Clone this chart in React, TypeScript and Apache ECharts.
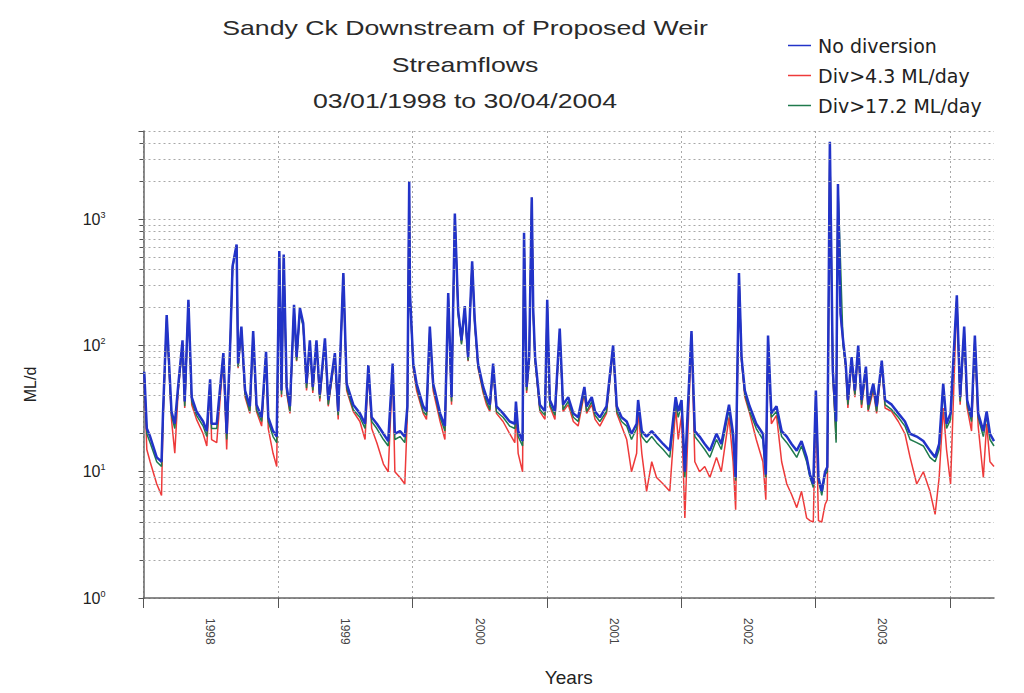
import React, { useEffect, useRef } from 'react';
import * as echarts from 'echarts';

const dates = [
  '1998-01-03','1998-01-10','1998-01-19','1998-02-06','1998-02-19','1998-02-23','1998-03-05','1998-03-18','1998-03-27','1998-04-05',
  '1998-04-17','1998-04-23','1998-05-03','1998-05-12','1998-05-25','1998-06-12','1998-06-22','1998-07-01','1998-07-05','1998-07-19',
  '1998-08-06','1998-08-15','1998-08-24','1998-08-31','1998-09-11','1998-09-15','1998-09-24','1998-10-04','1998-10-17','1998-10-26',
  '1998-11-04','1998-11-18','1998-11-30','1998-12-06','1998-12-19','1998-12-29','1999-01-05','1999-01-11','1999-01-17','1999-01-25',
  '1999-02-03','1999-02-14','1999-02-21','1999-03-02','1999-03-11','1999-03-20','1999-03-29','1999-04-06','1999-04-16','1999-04-25',
  '1999-05-09','1999-05-18','1999-06-05','1999-06-14','1999-06-28','1999-07-07','1999-07-25','1999-08-12','1999-08-26','1999-09-04',
  '1999-09-13','1999-09-27','1999-10-15','1999-10-28','1999-11-09','1999-11-15','1999-11-29','1999-12-12','1999-12-19','1999-12-24',
  '1999-12-26','2000-01-04','2000-01-13','2000-01-31','2000-02-09','2000-02-18','2000-02-27','2000-03-17','2000-03-30','2000-04-08',
  '2000-04-17','2000-04-26','2000-05-05','2000-05-14','2000-05-23','2000-06-01','2000-06-12','2000-06-19','2000-06-28','2000-07-12',
  '2000-07-21','2000-07-30','2000-08-08','2000-08-17','2000-09-04','2000-09-22','2000-10-06','2000-10-09','2000-10-15','2000-10-27',
  '2000-10-31','2000-11-07','2000-11-14','2000-11-21','2000-11-25','2000-11-30','2000-12-13','2000-12-27','2001-01-02','2001-01-09',
  '2001-01-23','2001-02-05','2001-02-14','2001-02-28','2001-03-14','2001-03-27','2001-04-13','2001-04-19','2001-05-03','2001-05-12',
  '2001-05-25','2001-06-12','2001-06-30','2001-07-10','2001-07-23','2001-08-06','2001-08-19','2001-09-02','2001-09-06','2001-09-16',
  '2001-09-29','2001-10-13','2001-10-26','2001-11-13','2001-12-01','2001-12-17','2001-12-24','2002-01-02','2002-01-11','2002-01-29',
  '2002-02-07','2002-02-20','2002-03-06','2002-03-20','2002-04-07','2002-04-20','2002-05-11','2002-05-22','2002-05-29','2002-06-07',
  '2002-06-14','2002-06-23','2002-07-06','2002-07-24','2002-08-11','2002-08-19','2002-08-25','2002-09-03','2002-09-17','2002-10-01',
  '2002-10-15','2002-10-28','2002-11-11','2002-11-24','2002-12-08','2002-12-17','2002-12-26','2003-01-02','2003-01-09','2003-01-18',
  '2003-01-27','2003-02-02','2003-02-09','2003-02-17','2003-02-26','2003-03-03','2003-03-10','2003-03-17','2003-03-24','2003-03-30',
  '2003-04-09','2003-04-18','2003-04-27','2003-05-06','2003-05-18','2003-05-24','2003-06-07','2003-06-16','2003-06-30','2003-07-09',
  '2003-07-27','2003-08-14','2003-09-01','2003-09-15','2003-10-03','2003-10-21','2003-11-08','2003-11-22','2003-12-03','2003-12-14',
  '2003-12-23','2004-01-03','2004-01-20','2004-01-29','2004-02-09','2004-02-17','2004-02-29','2004-03-09','2004-03-18','2004-04-01',
  '2004-04-10','2004-04-19','2004-04-30',
];

const noDiversion = [
  62,22,19,13,12,29,174,30,24,47,
  110,36,230,39,30,25,21,54,24,24,
  87,20,92,425,630,72,141,44,33,130,
  34,27,89,27,21,19,560,44,525,47,
  33,210,81,198,150,50,110,47,110,41,
  114,37,87,30,375,50,34,29,24,70,
  27,24,20,17.5,72,20,21,19,33,2000,
  260,72,50,33,30,141,50,29,23,260,
  39,1110,190,110,205,81,465,159,72,47,
  39,34,72,33,29,25,24,36,21,17.5,
  780,47,81,1490,190,81,34,30,230,37,
  30,136,34,39,29,27,47,33,39,30,
  27,33,100,33,27,25,20,24,37,21,
  19,21,19,16.6,14.7,39,30,37,10,130,
  21,19,16.6,14.7,20,16.6,34,20,9,375,
  81,44,33,24,20,9.5,120,29,33,21,
  19,16.6,14.7,17.5,13,9.5,8,44,9,7,
  10,10.9,4100,63,25,1900,180,110,72,37,
  81,44,100,37,68,34,50,33,76,37,
  34,29,25,20,19,17.5,14.7,13,16.6,50,
  24,29,250,39,141,37,27,120,29,21,
  30,20,17.5,
];

const div43 = [
  58,15,12,8,6.5,25,165,26,14,42,
  104,32,222,34,26,20,16,48,18,17,
  80,15,86,418,622,66,134,39,29,124,
  30,23,83,22,14,11,552,39,518,42,
  29,203,75,192,144,44,104,42,104,36,
  108,33,81,26,368,44,30,25,18,64,
  22,17,11.5,10,66,10,9,8,28,1990,
  252,66,44,29,26,135,44,25,18,252,
  34,1100,183,104,198,75,458,152,66,42,
  34,30,66,29,25,20,17,31,14,10,
  770,42,75,1480,183,75,30,26,222,33,
  26,130,30,34,25,23,42,29,34,26,
  23,29,94,29,23,18,10,14,32,14,
  7,12,9,8,7,32,18,28,4.3,124,
  12,10,11,9,13,10,27,12,5,368,
  75,39,29,18,12,6,114,24,28,12,
  8,6.6,5.2,7,4.3,4.1,4,38,4.1,4,
  5.5,6,4090,57,18,1890,174,104,66,32,
  75,39,94,32,62,30,44,29,70,32,
  30,25,20,13,8,10,7,4.6,9,32,
  15,8,242,34,135,32,21,114,23,9,
  24,12,11,
];

const div172 = [
  60,20,17,12,11,27,160,28,22,44,
  100,33,215,36,28,23,19,50,22,22,
  82,18,88,410,610,68,132,41,30,122,
  31,25,84,25,19,17,540,41,505,44,
  30,198,76,185,140,46,102,44,102,38,
  106,34,82,28,360,46,31,27,22,66,
  25,22,18,16,68,18,19,17,30,1950,
  245,68,47,30,28,132,47,27,21,245,
  36,1080,178,102,192,76,450,148,68,44,
  36,31,68,30,27,23,22,33,19,16,
  750,44,76,1450,178,76,31,28,215,34,
  28,128,31,36,27,25,44,30,36,28,
  25,30,95,30,25,23,18,22,34,19,
  17,19,17,15,13,35,27,34,9,122,
  19,17,15,13,18,15,31,18,8.5,360,
  76,41,30,22,18,9,112,27,30,19,
  17,15,13,16,12,9,7.5,41,8.5,6.5,
  9.5,10,4000,60,17,1850,450,100,68,34,
  76,41,95,34,64,31,47,30,72,34,
  31,27,23,18,17,16,13,12,15,45,
  22,26,235,36,132,34,25,112,27,19,
  28,18,16,
];

const seriesNames = ['No diversion', 'Div>4.3 ML/day', 'Div>17.2 ML/day'];
const yearBoundaries = ['1998-01-01', '1999-01-01', '2000-01-01', '2001-01-01', '2002-01-01', '2003-01-01', '2004-01-01'];
const yearLabelDates = ['1998-07-02', '1999-07-02', '2000-07-02', '2001-07-02', '2002-07-02', '2003-07-02'];
const minorGridValues = [2, 3, 4, 5, 6, 7, 8, 9, 20, 30, 40, 50, 60, 70, 80, 90, 200, 300, 400, 500, 600, 700, 800, 900, 2000, 3000, 4000];
const titleLines = ['Sandy Ck Downstream of Proposed Weir', 'Streamflows', '03/01/1998 to 30/04/2004'];

const toTs = (s: string) => {
  const [y, m, d] = s.split('-').map(Number);
  return Date.UTC(y, m - 1, d);
};

export default function App() {
  const ref = useRef<HTMLDivElement>(null);
  useEffect(() => {
    if (!ref.current) return;
    const chart = echarts.init(ref.current, null, { renderer: 'svg' });
    const pairs = (arr: number[]) => dates.map((d, i) => [toTs(d), arr[i]]);
    const gridLineStyle = { color: '#a8a8a8', type: [2, 3] as number[], width: 1 };
    const option: any = {
      animation: false,
      backgroundColor: '#ffffff',
      grid: { left: 143.5, right: 30, top: 131, bottom: 95, containLabel: false },
      graphic: titleLines.map((t, i) => ({
        type: 'text',
        x: 465,
        y: 28 + i * 36.5,
        scaleX: 1.27,
        silent: true,
        style: {
          text: t,
          font: '21px "Liberation Sans"',
          fill: '#2a2a2a',
          align: 'center',
          verticalAlign: 'middle',
          textAlign: 'center',
          textVerticalAlign: 'middle',
        },
      })),
      legend: {
        orient: 'vertical',
        left: 783,
        top: 30,
        icon: 'rect',
        itemWidth: 23,
        itemHeight: 1.5,
        itemGap: 9,
        data: seriesNames,
        textStyle: { fontFamily: 'DejaVu Sans', fontSize: 19, color: '#222', lineHeight: 21, padding: [0, 0, 0, 2] },
      },
      xAxis: {
        type: 'value',
        min: toTs('1998-01-01'),
        max: toTs('2004-04-30'),
        name: 'Years',
        nameLocation: 'middle',
        nameGap: 70,
        nameTextStyle: { fontFamily: 'Liberation Sans', fontSize: 19, color: '#222' },
        axisLine: { show: true, lineStyle: { color: '#666', width: 1.5 } },
        axisTick: { show: true, customValues: yearBoundaries.map(toTs), length: 10, lineStyle: { color: '#555' } },
        axisLabel: {
          customValues: yearLabelDates.map(toTs),
          rotate: -90,
          margin: 20,
          fontSize: 12,
          fontFamily: 'Liberation Sans',
          color: '#444',
          hideOverlap: false,
          showMinLabel: true,
          showMaxLabel: true,
          formatter: (v: number) => String(new Date(v).getUTCFullYear()),
        },
        splitLine: { show: true, lineStyle: gridLineStyle },
      },
      yAxis: {
        type: 'log',
        logBase: 10,
        min: 1,
        max: 5000,
        name: 'ML/d',
        nameLocation: 'middle',
        nameGap: 105,
        nameTextStyle: { fontFamily: 'Liberation Sans', fontSize: 16, color: '#222', padding: [0, 40, 0, 0] },
        axisLine: { show: true, lineStyle: { color: '#666', width: 1.5 } },
        axisTick: { show: true, length: 5, lineStyle: { color: '#555' } },
        minorTick: { show: true, splitNumber: 9, length: 4, lineStyle: { color: '#555' } },
        axisLabel: {
          margin: 38,
          formatter: (v: number) => {
            const p = Math.log10(v);
            const r = Math.round(p);
            if (Math.abs(p - r) > 1e-6) return '';
            return `{b|10}{s|${r}}`;
          },
          rich: {
            b: { fontSize: 16, fontFamily: 'Liberation Sans', color: '#222', lineHeight: 18 },
            s: { fontSize: 9, fontFamily: 'Liberation Sans', color: '#222', verticalAlign: 'top', lineHeight: 10 },
          },
        },
        splitLine: { show: true, lineStyle: gridLineStyle },
      },
      series: [
        {
          name: 'grid-minor',
          type: 'line',
          data: [],
          silent: true,
          z: 1,
          markLine: {
            silent: true,
            symbol: ['none', 'none'],
            label: { show: false },
            lineStyle: gridLineStyle,
            data: minorGridValues.map((v) => ({ yAxis: v })),
          },
        },
        {
          name: seriesNames[1],
          type: 'line',
          data: pairs(div43),
          showSymbol: false,
          symbol: 'none',
          lineStyle: { width: 1.5, color: '#ee3a3a' },
          itemStyle: { color: '#ee3a3a' },
          z: 2,
        },
        {
          name: seriesNames[2],
          type: 'line',
          data: pairs(div172),
          showSymbol: false,
          symbol: 'none',
          lineStyle: { width: 1.5, color: '#1f7a4c' },
          itemStyle: { color: '#1f7a4c' },
          z: 3,
        },
        {
          name: seriesNames[0],
          type: 'line',
          data: pairs(noDiversion),
          showSymbol: false,
          symbol: 'none',
          lineStyle: { width: 2.5, color: '#2233c8' },
          itemStyle: { color: '#2233c8' },
          z: 4,
        },
      ],
    };
    chart.setOption(option);
    return () => chart.dispose();
  }, []);
  return (
    <div
      ref={ref}
      style={{ position: 'fixed', left: 0, top: 0, width: 1024, height: 693, background: '#fff' }}
    />
  );
}
